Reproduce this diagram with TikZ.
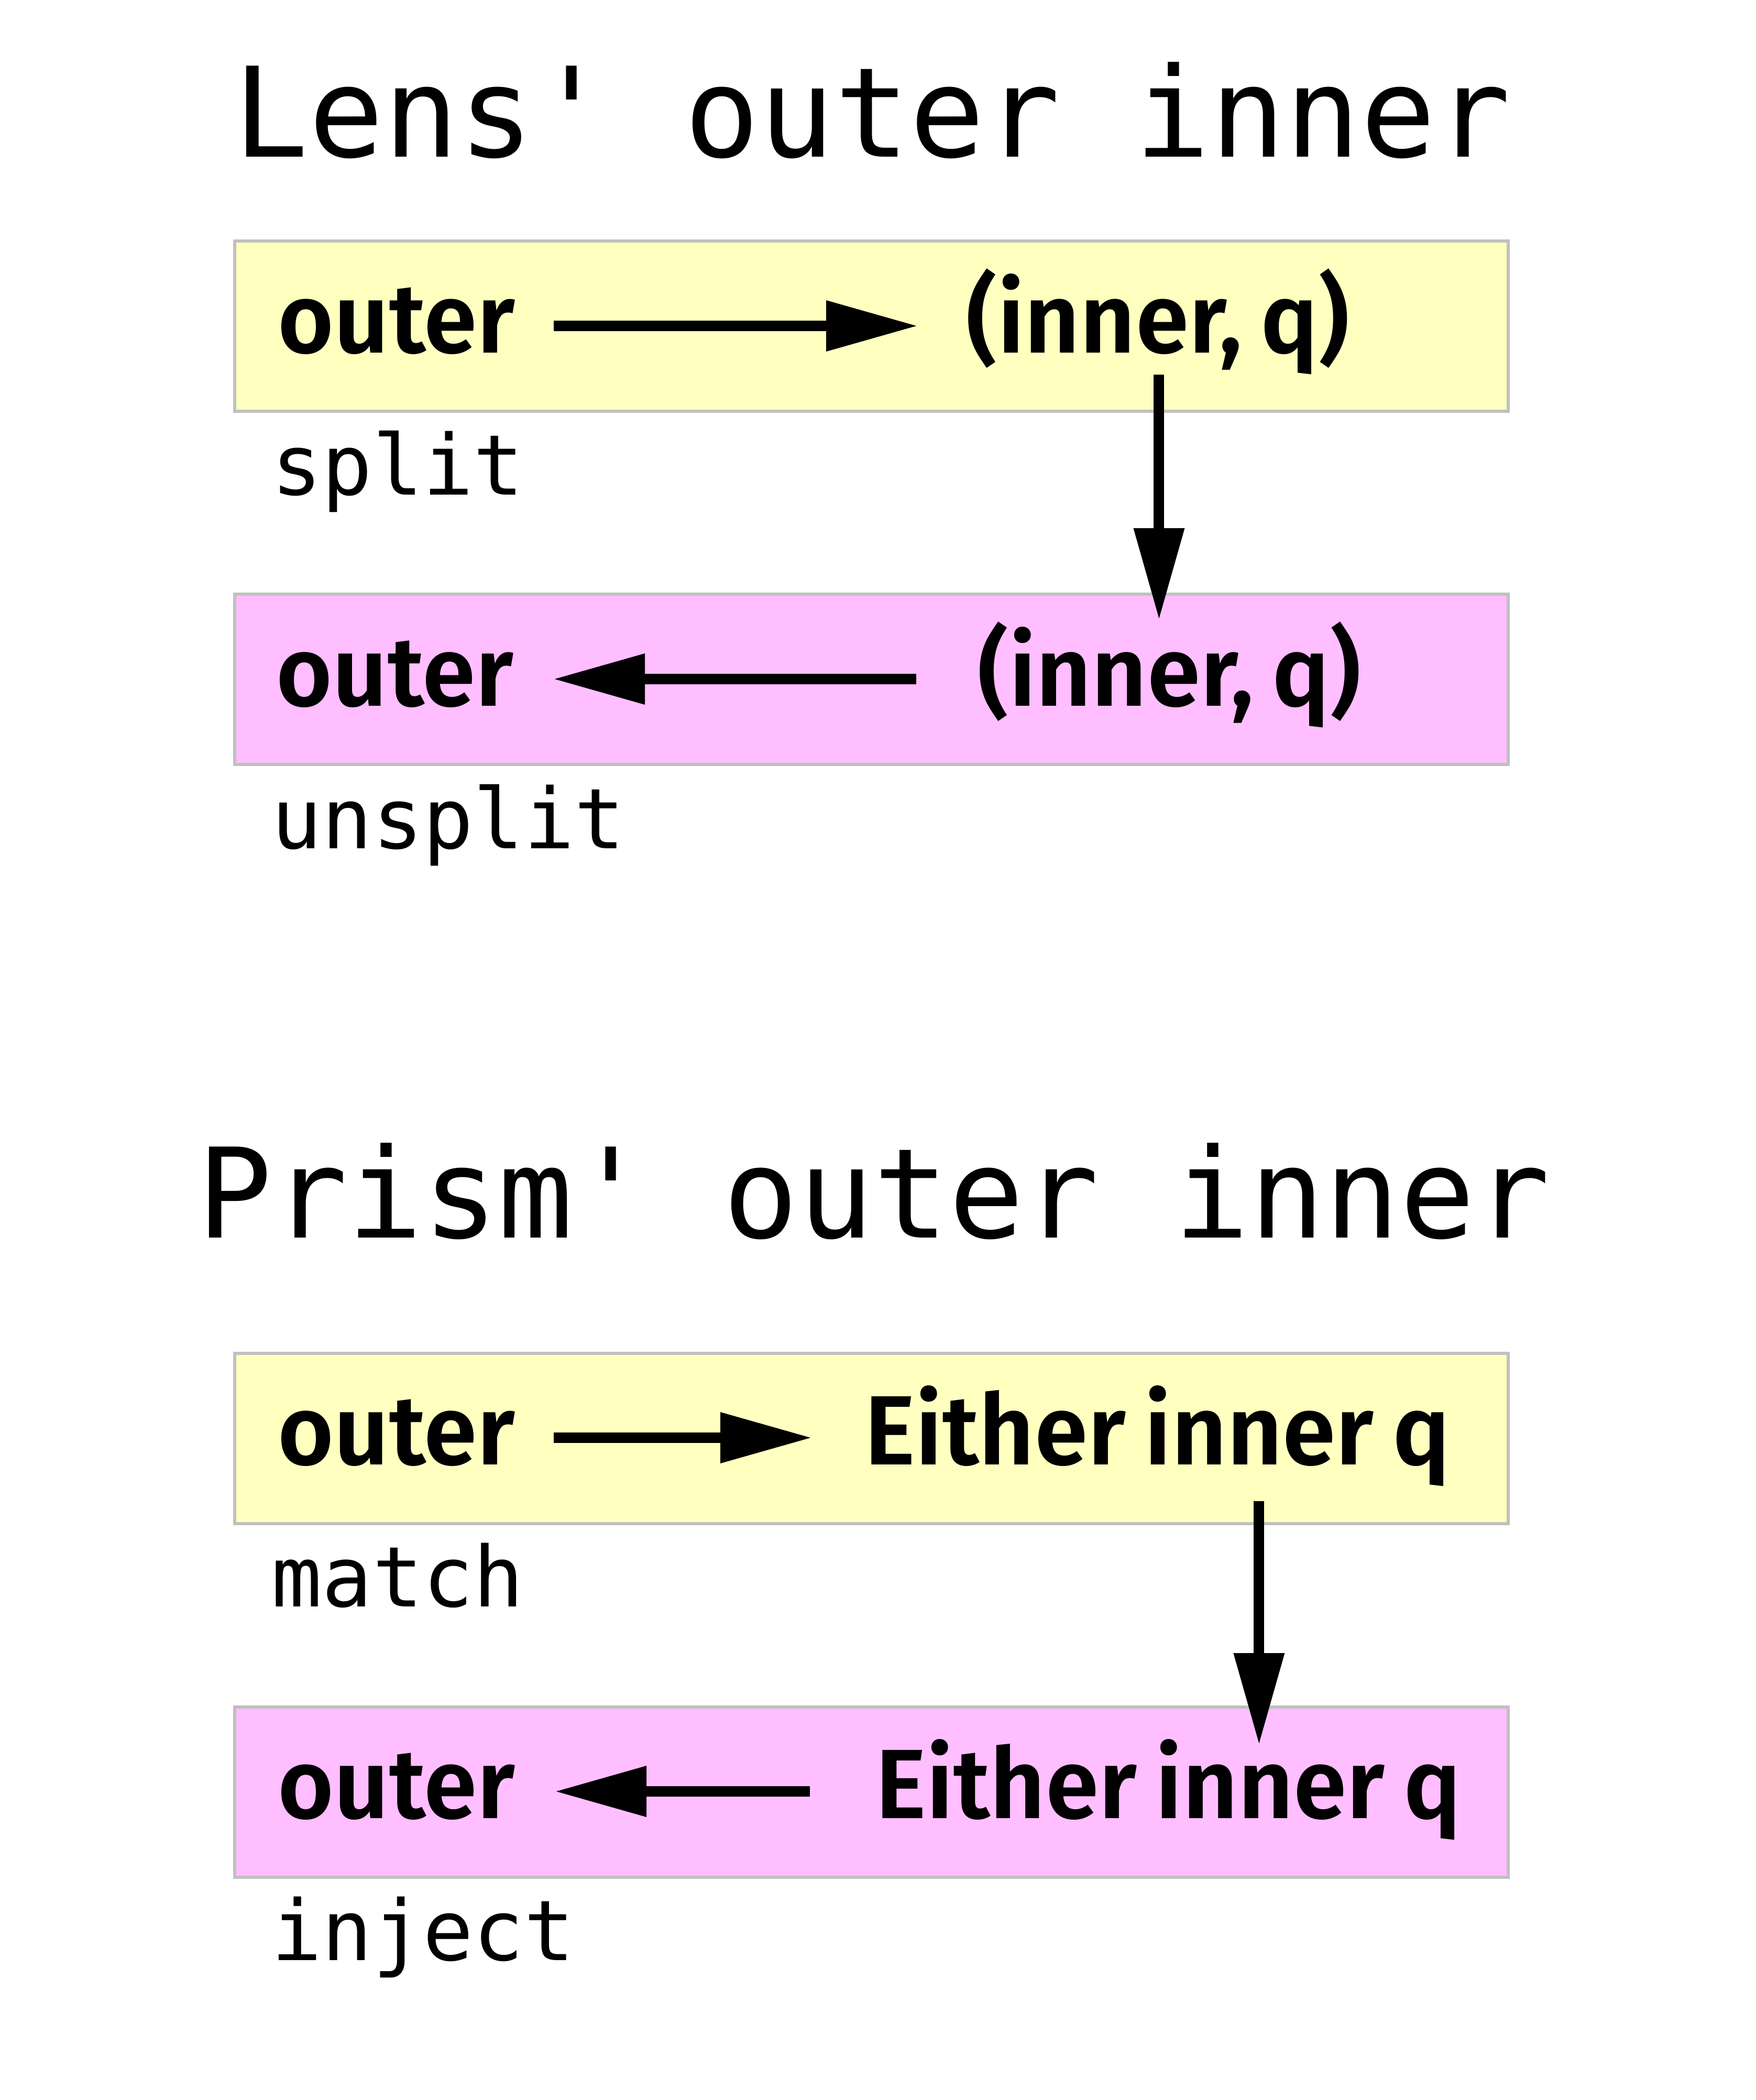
\documentclass[tikz,border=0pt]{standalone}
\usepackage{fontspec}
\usetikzlibrary{arrows.meta}
\newfontfamily\boxfont[FakeStretch=0.975,WordSpace=0.8,BoldFont={Fira Sans SemiBold}]{Fira Sans}
\setmonofont{DejaVu Sans Mono}
\definecolor{boxyellow}{RGB}{255,255,192}
\definecolor{boxpink}{RGB}{255,190,255}
\definecolor{boxline}{RGB}{192,192,192}

\begin{document}
\begin{tikzpicture}[
    box/.style={draw=boxline, line width=0.06cm, minimum width=24.31cm, minimum height=3.25cm},
    ybox/.style={box, fill=boxyellow},
    pbox/.style={box, fill=boxpink},
    txt/.style={inner sep=0pt, anchor=base west, font=\boxfont\bfseries\fontsize{53.5}{60}\selectfont},
    fn/.style={inner sep=0pt, anchor=base west, font=\ttfamily\fontsize{45.5}{50}\selectfont},
    ttl/.style={inner sep=0pt, anchor=base, font=\ttfamily\fontsize{67.8}{75}\selectfont},
    arr/.style={-{Triangle[length=1.75cm, width=0.92cm]}, line width=0.2cm}
]
\useasboundingbox (0,0) rectangle (33.52,-40.08);

% Lens
\node[ttl] (lenst) at (16.65,-2.99) {Lens' outer inner};
\node[ybox] (box1) at (16.635,-6.225) {};
\node[txt] (out1) at (5.30,-6.73) {outer};
\node[txt] (iq1) at (18.44,-6.73) {(inner, q)};
\node[fn] (split) at (5.18,-9.44) {split};
\node[pbox] (box2) at (16.635,-12.965) {};
\node[txt] (out2) at (5.27,-13.47) {outer};
\node[txt] (iq2) at (18.66,-13.47) {(inner, q)};
\node[fn] (unsplit) at (5.18,-16.19) {unsplit};

\draw[arr, shorten <=0.73cm, shorten >=0.92cm] ([yshift=0.51cm]out1.base east) -- ([yshift=0.51cm]iq1.base west);
\draw[arr] ([xshift=0.02cm]iq1.south) -- ++(0,-4.68);
\draw[arr, shorten <=1.17cm, shorten >=0.75cm] ([yshift=0.51cm]iq2.base west) -- ([yshift=0.51cm]out2.base east);

% Prism
\node[ttl] (prismt) at (16.68,-23.62) {Prism' outer inner};
\node[ybox] (box3) at (16.635,-27.455) {};
\node[txt] (out3) at (5.30,-27.95) {outer};
\node[txt] (eith1) at (16.50,-27.95) {Either inner q};
\node[fn] (match) at (5.18,-30.66) {match};
\node[pbox] (box4) at (16.635,-34.20) {};
\node[txt] (out4) at (5.30,-34.70) {outer};
\node[txt] (eith2) at (16.71,-34.70) {Either inner q};
\node[fn] (inject) at (5.18,-37.41) {inject};

\draw[arr, shorten <=0.73cm, shorten >=1cm] ([yshift=0.51cm]out3.base east) -- ([yshift=0.51cm]eith1.base west);
\draw[arr] ([xshift=1.94cm, yshift=-0.28cm]eith1.south) -- ++(0,-4.65);
\draw[arr, shorten <=1.25cm, shorten >=0.75cm] ([yshift=0.51cm]eith2.base west) -- ([yshift=0.51cm]out4.base east);
\end{tikzpicture}
\end{document}
